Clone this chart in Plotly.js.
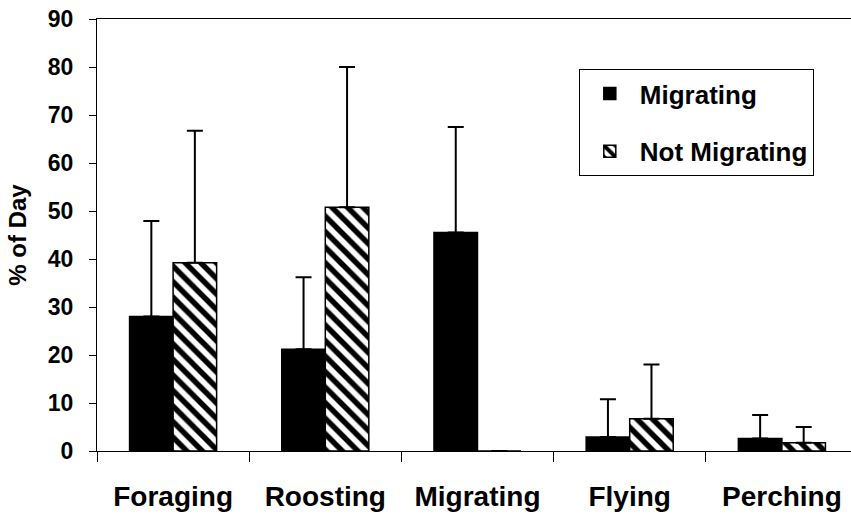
<!DOCTYPE html>
<html>
<head>
<meta charset="utf-8">
<script src="https://cdn.plot.ly/plotly-3.0.1.min.js"></script>
<style>
  html, body { margin: 0; padding: 0; background: #ffffff; }
  #chart { width: 851px; height: 520px; }
</style>
</head>
<body>
<div id="chart"></div>
<script>
// Data
const categories = ["Foraging", "Roosting", "Migrating", "Flying", "Perching"];
const migratingValues = [28.0, 21.2, 45.5, 2.9, 2.6];
const migratingUpper = [47.9, 36.2, 67.5, 10.8, 7.5];
const notMigratingValues = [39.2, 50.8, 0, 6.7, 1.7];
const notMigratingUpper = [66.7, 80.0, 0, 18.0, 5.0];
const yTickValues = [0, 10, 20, 30, 40, 50, 60, 70, 80, 90];

const plusErr = (vals, upper) => vals.map((v, i) => Math.max(0, upper[i] - v));

const FONT = "Liberation Sans, Arial, sans-serif";

const traceMig = {
  type: "bar",
  name: "Migrating",
  x: categories,
  y: migratingValues,
  legendgroup: "a",
  marker: { color: "#000000", line: { color: "#000000", width: 1.5 } },
  error_y: {
    type: "data", symmetric: false,
    array: plusErr(migratingValues, migratingUpper),
    arrayminus: migratingValues.map(() => 0),
    color: "#000000", thickness: 2, width: 8
  },
  hoverinfo: "x+y"
};

const traceNot = {
  type: "bar",
  name: "Not Migrating",
  x: categories,
  y: notMigratingValues,
  legendgroup: "b",
  marker: {
    color: "#ffffff",
    line: { color: "#000000", width: 1.5 },
    pattern: { shape: "\\", fgcolor: "#000000", bgcolor: "#ffffff", size: 11, solidity: 0.5, fillmode: "replace" }
  },
  error_y: {
    type: "data", symmetric: false,
    array: plusErr(notMigratingValues, notMigratingUpper),
    arrayminus: notMigratingValues.map(() => 0),
    color: "#000000", thickness: 2, width: 8
  },
  hoverinfo: "x+y"
};

const layout = {
  width: 851,
  height: 520,
  autosize: false,
  paper_bgcolor: "#ffffff",
  plot_bgcolor: "#ffffff",
  margin: { l: 97, r: 0, t: 19, b: 69, pad: 0 },
  barmode: "group",
  bargap: 0.428,
  bargroupgap: 0,
  showlegend: true,
  font: { family: FONT, color: "#000000" },
  xaxis: {
    type: "category",
    range: [-0.5, 4.454],
    showline: true,
    linecolor: "#000000",
    linewidth: 1,
    mirror: true,
    ticks: "outside",
    tickson: "boundaries",
    ticklen: 10,
    tickcolor: "#000000",
    tickwidth: 1,
    ticklabelstandoff: 20,
    tickfont: { family: FONT, size: 28, weight: "bold", color: "#000000" },
    showgrid: false,
    zeroline: false,
    fixedrange: true
  },
  yaxis: {
    range: [0, 90],
    tickvals: yTickValues,
    ticktext: yTickValues.map(String),
    showline: true,
    linecolor: "#000000",
    linewidth: 1,
    ticks: "outside",
    ticklen: 7,
    tickcolor: "#000000",
    tickwidth: 1,
    ticklabelstandoff: 11,
    tickfont: { family: FONT, size: 23, weight: "bold", color: "#000000" },
    title: { text: "% of Day", font: { family: FONT, size: 24, weight: "bold", color: "#000000" }, standoff: 14 },
    showgrid: false,
    zeroline: false,
    fixedrange: true
  },
  legend: {
    x: 0.639,
    y: 0.884,
    xanchor: "left",
    yanchor: "top",
    bgcolor: "#ffffff",
    bordercolor: "#000000",
    borderwidth: 1,
    font: { family: FONT, size: 26, weight: "bold", color: "#000000" },
    tracegroupgap: 21,
    itemwidth: 50,
    traceorder: "grouped"
  }
};

Plotly.newPlot("chart", [traceMig, traceNot], layout, { displayModeBar: false, staticPlot: true });
</script>
</body>
</html>
